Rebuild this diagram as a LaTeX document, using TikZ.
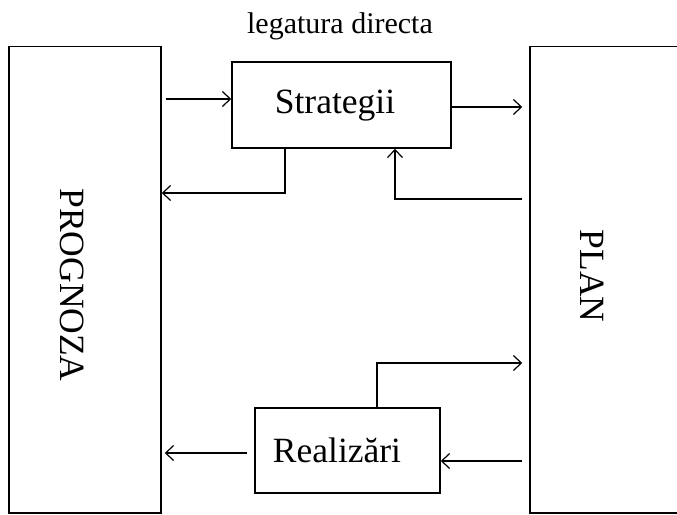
\documentclass[tikz,border=0pt]{standalone}
\usepackage{fontspec}
\setmainfont{Liberation Serif}
\usetikzlibrary{arrows.meta}
\tikzset{
  bigbox/.style={draw, line width=1.5pt, inner sep=0pt},
  smallbox/.style={draw, line width=1.5pt, inner sep=0pt},
  conn/.style={line width=1.2pt},
  arr/.style={conn, -{Straight Barb[length=8pt,width=15pt]}},
  bigtext/.style={font=\fontsize{35.5}{40}\selectfont, inner sep=0pt},
  toptext/.style={font=\fontsize{30}{34}\selectfont, inner sep=0pt}
}
\begin{document}
\begin{tikzpicture}[x=1pt,y=-1pt]
\useasboundingbox (0,0) rectangle (677,514);
\fill[white] (0,0) rectangle (677,514);
\begin{scope}
\clip (0,0) rectangle (677,514);
\node[bigbox, minimum width=152pt, minimum height=466.5pt] (prog) at (85,279.75) {};
\node[bigbox, minimum width=160pt, minimum height=466.5pt] (plan) at (610,279.75) {};
\end{scope}
\node[smallbox, minimum width=219pt, minimum height=86pt] (strat) at (341.5,105) {};
\node[smallbox, minimum width=185pt, minimum height=85pt] (real) at (347.5,450.5) {};
% texts
\node[toptext, anchor=base] (title) at (340,33) {legatura directa};
\node[bigtext, anchor=base] (strattext) at (335,113) {Strategii};
\node[bigtext, anchor=base] (realtext) at (337,462) {Realizări};
\node[bigtext, rotate=-90] (progtext) at (72,285) {PROGNOZA};
\node[bigtext, rotate=-90] (plantext) at (592,276) {PLAN};
% connectors
\draw[arr, shorten <=4pt] (prog.east |- 0,99) -- (strat.west |- 0,99);
\draw[arr, shorten >=7pt] (strat.east |- 0,107) -- (plan.west |- 0,107);
\draw[arr] (strat.south -| 285,0) |- (prog.east |- 0,193);
\draw[arr, shorten <=7pt] (plan.west |- 0,199) -| (strat.south -| 395,0);
\draw[arr, shorten >=7pt] (real.north -| 377,0) |- (plan.west |- 0,363);
\draw[arr, shorten <=7pt] (plan.west |- 0,461) -- (real.east |- 0,461);
\draw[arr, shorten <=7pt, shorten >=3pt] (real.west |- 0,453) -- (prog.east |- 0,453);
\end{tikzpicture}
\end{document}
